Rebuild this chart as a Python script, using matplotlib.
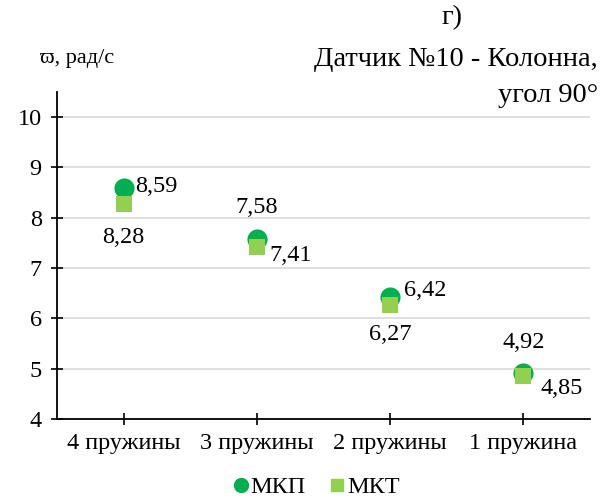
import matplotlib
matplotlib.use("Agg")
import matplotlib.pyplot as plt
from matplotlib.lines import Line2D

plt.rcParams['font.family'] = ['Liberation Serif', 'DejaVu Serif']

categories = ["4 пружины", "3 пружины", "2 пружины", "1 пружина"]
mkp = [8.59, 7.58, 6.42, 4.92]
mkt = [8.28, 7.41, 6.27, 4.85]
mkp_labels = ["8,59", "7,58", "6,42", "4,92"]
mkt_labels = ["8,28", "7,41", "6,27", "4,85"]
yticks = [4, 5, 6, 7, 8, 9, 10]

FS = 17.5

fig = plt.figure(figsize=(6.10, 5.01), dpi=100)
ax = fig.add_axes([57/610, 1-419/501, (590-57)/610, (419-92)/501])

x = list(range(len(categories)))
ax.scatter(x, mkp, s=210, marker='o', color='#00B050', zorder=3, linewidths=0)
ax.scatter(x, mkt, s=120, marker='s', color='#92D050', zorder=4, linewidths=0)

# label positions (offsets in points)
mkp_off = [(8, 1, 'left', 'center'), (0, 15, 'center', 'bottom'), (10, 5, 'left', 'center'), (0, 14, 'center', 'bottom')]
mkt_off = [(0, -17, 'center', 'top'), (9, -6, 'left', 'center'), (0, -14, 'center', 'top'), (12, -9, 'left', 'center')]
for i in x:
    dx, dy, ha, va = mkp_off[i]
    ax.annotate(mkp_labels[i], (i, mkp[i]), xytext=(dx, dy), textcoords='offset points',
                ha=ha, va=va, fontsize=FS)
    dx, dy, ha, va = mkt_off[i]
    ax.annotate(mkt_labels[i], (i, mkt[i]), xytext=(dx, dy), textcoords='offset points',
                ha=ha, va=va, fontsize=FS)

ax.set_xlim(-0.5, 3.5)
ax.set_ylim(4, 10.5)
ax.set_yticks(yticks)
ax.set_yticklabels([str(v) for v in yticks], fontsize=FS)
ax.set_xticks(x)
ax.set_xticklabels(categories, fontsize=FS)
ax.yaxis.grid(True, color='#d9d9d9', linewidth=1.2)
ax.set_axisbelow(True)
for s in ['top', 'right']:
    ax.spines[s].set_visible(False)
ax.spines['left'].set_linewidth(1.3)
ax.spines['bottom'].set_linewidth(1.3)
ax.tick_params(axis='both', direction='inout', length=8, width=1.2, colors='black')
ax.tick_params(axis='x', pad=6)
ax.tick_params(axis='y', pad=7)

fig.text(452/610, 1-18/501, "г)", ha='center', va='center', fontsize=20.5)
fig.text(598/610, 1-60/501, "Датчик №10 - Колонна,", ha='right', va='center', fontsize=20.5)
fig.text(598/610, 1-95/501, "угол 90°", ha='right', va='center', fontsize=20.5)
fig.text(40/610, 1-58/501, "ϖ, рад/с", ha='left', va='center', fontsize=16)

handles = [Line2D([], [], marker='o', linestyle='none', color='#00B050', markersize=10),
           Line2D([], [], marker='s', linestyle='none', color='#92D050', markersize=9)]
fig.legend(handles, ["МКП", "МКТ"], loc='center', bbox_to_anchor=(314/610, 1-487/501),
           ncol=2, frameon=False, fontsize=FS, handletextpad=-0.1, columnspacing=0.8,
           handlelength=1.0)

fig.savefig("out.png", dpi=100)
